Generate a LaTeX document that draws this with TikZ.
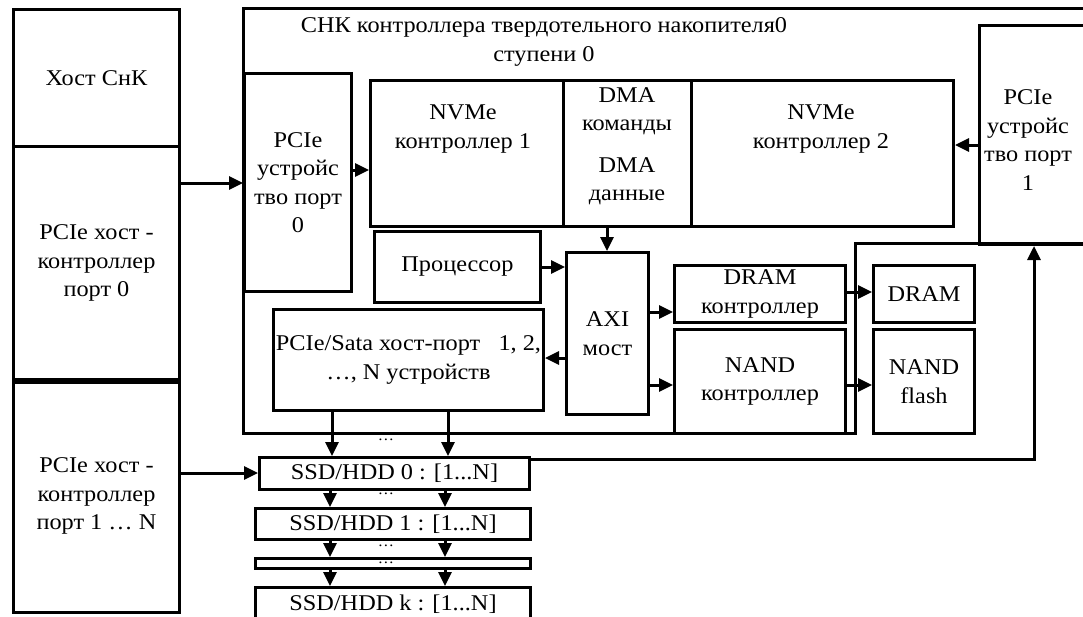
\documentclass[tikz,border=0pt]{standalone}
\usepackage{fontspec}
\setmainfont{Liberation Serif}[FakeStretch=1.08]
\usetikzlibrary{arrows.meta}
\newcommand\dfont{\fontsize{22.5}{28.5}\selectfont}
\newcommand\dotfont{\fontsize{15}{16}\selectfont}
\begin{document}
\begin{tikzpicture}[x=1pt,y=-1pt,
  ln/.style={line width=3pt},
  box/.style={draw, ln, inner sep=0pt, align=center, font=\dfont, anchor=north west},
  txt/.style={inner sep=0pt, align=center, font=\dfont},
  dts/.style={inner sep=0pt, font=\dotfont},
  arr/.style={ln, -{Triangle[length=14pt,width=13pt]}}]
\clip (0,0) rectangle (1083,616);
\fill[white] (0,0) rectangle (1083,616);

% host column
\node[box, minimum width=166pt, minimum height=137pt] (hostsoc) at (12,8) {Хост СнК};
\node[box, minimum width=166pt, minimum height=233pt] (host0) at (12,145) {PCIe хост -\\контроллер\\порт 0};
\node[box, minimum width=166pt, minimum height=233pt] (hostN) at (12,378) {PCIe хост -\\контроллер\\порт 1 \dots\ N};
\draw[line width=6pt] (host0.south west) -- (host0.south east);

% SoC outline
\draw[ln] (1095,8) -- (243,8) -- (243,433) -- (855,433) -- (855,243) -- (1095,243);
\node[txt] (title) at (544,42) {СНК контроллера твердотельного накопителя0\\ступени 0};

% PCIe ports
\node[box, minimum width=107pt, minimum height=218pt] (port0) at (243,72) {PCIe\\устройс\\тво порт\\0};
\node[box, minimum width=120pt, minimum height=219pt] (port1) at (978,24) {};
\node[txt] (port1t) at (1028,140) {PCIe\\устройс\\тво порт\\1};

% NVMe / DMA block
\node[box, minimum width=193pt, minimum height=146pt] (nvme1) at (369,79) {};
\node[box, minimum width=128pt, minimum height=146pt] (dma) at (562,79) {};
\node[box, minimum width=262pt, minimum height=146pt] (nvme2) at (690,79) {};
\node[txt] (nvme1t) at (463,129) {NVMe\\контроллер 1};
\node[txt] (dmat1) at (627,111) {DMA\\команды};
\node[txt] (dmat2) at (627,181) {DMA\\данные};
\node[txt] (nvme2t) at (821,129) {NVMe\\контроллер 2};

% inner blocks
\node[box, minimum width=166pt, minimum height=71pt] (proc) at (373,230) {Процессор};
\node[box, minimum width=82pt, minimum height=162pt] (axi) at (565,251) {AXI\\мост};
\node[box, minimum width=171pt, minimum height=57pt] (dramc) at (673,264) {DRAM\\контроллер};
\node[box, minimum width=171pt, minimum height=104pt] (nandc) at (673,328) {NAND\\контроллер};
\node[box, minimum width=101pt, minimum height=57pt] (dram) at (872,264) {DRAM};
\node[box, minimum width=101pt, minimum height=104pt] (nandf) at (872,328) {NAND\\flash};
\node[box, minimum width=270pt, minimum height=101pt] (sata) at (272,308) {PCIe/Sata хост-порт\ \ \ 1, 2,\\\dots, N устройств};

% drives
\node[box, minimum width=270pt, minimum height=32pt] (ssd0) at (258,456) {SSD/HDD 0 : [1...N]};
\node[box, minimum width=275pt, minimum height=31pt] (ssd1) at (254,507) {SSD/HDD 1 : [1...N]};
\node[box, minimum width=275pt, minimum height=10pt] (thin) at (254,557) {};
\node[box, minimum width=275pt, minimum height=34pt] (ssdk) at (254,586) {SSD/HDD k : [1...N]};
\node[dts] (d1) at (386,440) {\dots};
\node[dts] (d2) at (386,494) {\dots};
\node[dts] (d3) at (386,546) {\dots};
\node[dts, anchor=base] (d4) at (386,563) {\dots};

% level coordinates
\coordinate (y183) at (0,183);
\coordinate (y170) at (0,170);
\coordinate (y145) at (0,145);
\coordinate (y267) at (0,267);
\coordinate (y312) at (0,312);
\coordinate (y358) at (0,358);
\coordinate (y385) at (0,385);
\coordinate (y292) at (0,292);
\coordinate (y473) at (0,473);
\coordinate (y459) at (0,459);
\coordinate (x607) at (607,0);
\coordinate (x1034) at (1034,0);
\coordinate (xa) at (332,0);
\coordinate (xb) at (448,0);
\coordinate (xc) at (330,0);
\coordinate (xd) at (445,0);

% connectors
\draw[arr] (host0.east |- y183) -- (port0.west |- y183);
\draw[arr] (port0.east |- y170) -- (nvme1.west |- y170);
\draw[arr] (port1.west |- y145) -- (nvme2.east |- y145);
\draw[arr] (x607 |- dma.south) -- (x607 |- axi.north);
\draw[arr] (proc.east |- y267) -- (axi.west |- y267);
\draw[arr] (axi.east |- y312) -- (dramc.west |- y312);
\draw[arr] (axi.east |- y385) -- (nandc.west |- y385);
\draw[arr] (axi.west |- y358) -- (sata.east |- y358);
\draw[arr] (dramc.east |- y292) -- (dram.west |- y292);
\draw[arr] (nandc.east |- y385) -- (nandf.west |- y385);
\draw[arr] (xa |- sata.south) -- (xa |- ssd0.north);
\draw[arr] (xb |- sata.south) -- (xb |- ssd0.north);
\draw[arr] (xc |- ssd0.south) -- (xc |- ssd1.north);
\draw[arr] (xd |- ssd0.south) -- (xd |- ssd1.north);
\draw[arr] (xc |- ssd1.south) -- (xc |- thin.north);
\draw[arr] (xd |- ssd1.south) -- (xd |- thin.north);
\draw[arr] (xc |- thin.south) -- (xc |- ssdk.north);
\draw[arr] (xd |- thin.south) -- (xd |- ssdk.north);
\draw[arr] (hostN.east |- y473) -- (ssd0.west |- y473);
\draw[arr] (ssd0.east |- y459) -- (x1034 |- y459) -- (x1034 |- port1.south);
\end{tikzpicture}
\end{document}
